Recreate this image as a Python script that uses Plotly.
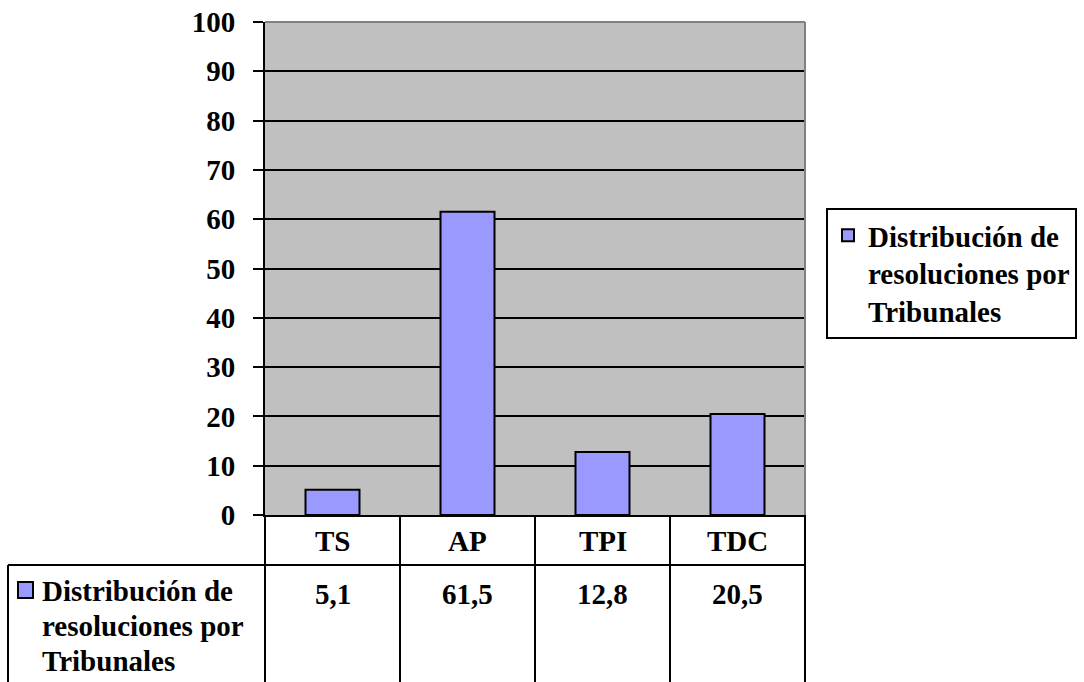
import plotly.graph_objects as go

categories = ["TS", "AP", "TPI", "TDC"]
values = [5.1, 61.5, 12.8, 20.5]
value_labels = ["5,1", "61,5", "12,8", "20,5"]
legend_lines = ["Distribución de", "resoluciones por", "Tribunales"]
y_ticks = list(range(0, 101, 10))

W, H = 1084, 682
L, R, T, B = 265, 279, 22, 167
pw, ph = W - L - R, H - T - B

FONT = dict(family="Liberation Serif", size=29, color="black", weight="bold")

fig = go.Figure()
fig.add_trace(go.Bar(
    x=categories, y=values, name="<br>".join(legend_lines),
    marker=dict(color="#9999FF", line=dict(color="black", width=2)),
    width=0.4,
))

def py(pix_below):  # paper y for a pixel offset below the plot bottom
    return -pix_below / ph

def px(pix_left):  # paper x for a pixel offset left of the plot left edge
    return -pix_left / pw

n = len(categories)
shapes = []
shapes.append(dict(type="line", xref="paper", yref="paper", x0=0, x1=1, y0=1, y1=1,
                   line=dict(color="#808080", width=2)))
shapes.append(dict(type="line", xref="paper", yref="paper", x0=1, x1=1, y0=0, y1=1,
                   line=dict(color="#808080", width=2)))
for i in range(n + 1):
    shapes.append(dict(type="line", xref="paper", yref="paper", x0=i / n, x1=i / n,
                       y0=0, y1=py(B + 5), line=dict(color="black", width=2)))
shapes.append(dict(type="line", xref="paper", yref="paper", x0=px(L - 8), x1=1,
                   y0=py(50), y1=py(50), line=dict(color="black", width=2)))
shapes.append(dict(type="line", xref="paper", yref="paper", x0=px(L - 8), x1=px(L - 8),
                   y0=py(50), y1=py(B + 5), line=dict(color="black", width=2)))
shapes.append(dict(type="rect", xref="paper", yref="paper",
                   x0=px(L - 18), x1=px(L - 33), y0=py(83), y1=py(67),
                   fillcolor="#9999FF", line=dict(color="black", width=2)))

annotations = []
for c, lab in zip(categories, value_labels):
    annotations.append(dict(x=c, xref="x", y=py(26), yref="paper", text=c, showarrow=False,
                            font=FONT, xanchor="center", yanchor="middle"))
    annotations.append(dict(x=c, xref="x", y=py(79), yref="paper", text=lab, showarrow=False,
                            font=FONT, xanchor="center", yanchor="middle"))
for k, line in enumerate(legend_lines):
    annotations.append(dict(x=px(L - 40), xref="paper", y=py(58 + 35 * k), yref="paper",
                            text=line, showarrow=False, font=FONT, align="left",
                            xanchor="left", yanchor="top"))

fig.update_layout(
    width=W, height=H, autosize=False,
    margin=dict(l=L, r=R, t=T, b=B, pad=0, autoexpand=False),
    paper_bgcolor="white", plot_bgcolor="#C0C0C0",
    font=FONT,
    showlegend=True,
    legend=dict(xref="container", yref="container", x=826 / W, xanchor="left",
                y=1 - 208 / H, yanchor="top",
                bordercolor="black", borderwidth=2, bgcolor="white", font=FONT,
                valign="top", tracegroupgap=0, itemwidth=30),
    shapes=shapes, annotations=annotations,
)
fig.update_xaxes(range=[-0.5, n - 0.5], showticklabels=False, ticks="", showgrid=False,
                 showline=True, linecolor="black", linewidth=2, zeroline=False, automargin=False)
fig.update_yaxes(range=[0, 100], tickvals=y_ticks, ticks="outside", ticklen=10, tickwidth=2,
                 tickcolor="black", showgrid=True, gridcolor="black", gridwidth=2,
                 showline=True, linecolor="black", linewidth=2, zeroline=False,
                 tickfont=FONT, ticklabelstandoff=12, automargin=False)

fig.write_html("out.html", config={"displayModeBar": False},
               post_script="document.body.style.margin='0';")
